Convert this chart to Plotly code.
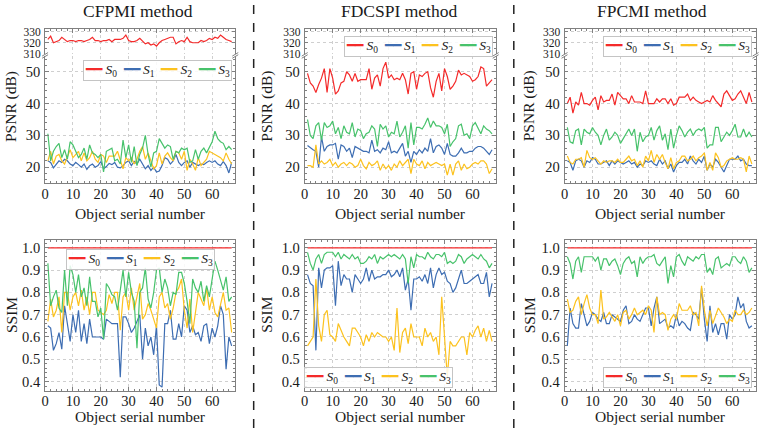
import plotly.graph_objects as go

W, H = 759, 433

# ---------------- data ----------------
x = list(range(1, 68))
methods = ["CFPMI method", "FDCSPI method", "FPCMI method"]
series_names = ["S0", "S1", "S2", "S3"]
psnr_ticks_top = [310, 320, 330]

ssim_s0 = [1.0, 1.0, 1.0, 1.0, 1.0, 1.0, 1.0, 1.0, 1.0, 1.0,
           1.0, 1.0, 1.0, 1.0, 1.0, 1.0, 1.0, 1.0, 1.0, 1.0,
           1.0, 1.0, 1.0, 1.0, 1.0, 1.0, 1.0, 1.0, 1.0, 1.0,
           1.0, 1.0, 1.0, 1.0, 1.0, 1.0, 1.0, 1.0, 1.0, 1.0,
           1.0, 1.0, 1.0, 1.0, 1.0, 1.0, 1.0, 1.0, 1.0, 1.0,
           1.0, 1.0, 1.0, 1.0, 1.0, 1.0, 1.0, 1.0, 1.0, 1.0,
           1.0, 1.0, 1.0, 1.0, 1.0, 1.0, 1.0]

# CFPMI
cf_psnr_s0 = [323, 326, 320, 321, 322, 325, 323, 321, 322, 322,
              321, 322, 322, 321, 322, 323, 325, 322, 322, 321,
              322, 322, 323, 321, 323, 323, 323, 324, 327, 322,
              321, 321, 322, 324, 321, 319, 320, 318, 319, 317,
              320, 322, 323, 324, 325, 325, 319, 321, 322, 321,
              325, 321, 320, 320, 320, 322, 321, 322, 324, 323,
              325, 324, 327, 325, 323, 322, 321]
cf_psnr_s1 = [22, 21.5, 19.8, 21, 22, 21.5, 22.5, 22, 21, 20.5,
              21.5, 20.8, 20, 21, 19.3, 20.5, 21, 20, 20.5, 21.8,
              19.5, 20.2, 21.2, 20.8, 21.5, 20, 19.8, 20.5, 21.5, 22,
              20.5, 21.8, 21, 22.5, 21, 19.5, 20.5, 19, 20, 18.5,
              18.8, 20.5, 23, 22.5, 21, 22, 24, 21.5, 20.5, 21.5,
              22, 20, 21.5, 21, 20.5, 21, 20.8, 21.5, 22, 21.5,
              22, 21, 20.5, 21.8, 20.5, 18.2, 21.5]
cf_psnr_s2 = [22, 25, 21, 23.5, 24, 22, 21, 23.5, 25.5, 23,
              24, 25, 22, 24.5, 22, 23, 25, 22.5, 21.5, 24,
              23.5, 21.5, 23.5, 23.5, 23.5, 25, 22.5, 19.5, 23, 22,
              23, 21, 22.5, 25, 26.5, 22.5, 24.5, 22, 19.5, 20.5,
              24.5, 21, 23.5, 24.5, 23, 22, 25, 24.5, 22.5, 25,
              19, 22.5, 21, 19, 23, 20.5, 21.5, 22.5, 25, 24.5,
              24, 23.5, 23, 22, 24.5, 22.5, 21]
cf_psnr_s3 = [30.5, 22, 25, 26.5, 27.5, 23, 25.5, 22.5, 28, 27,
              25, 23, 24, 26, 22.5, 27, 24.5, 24, 23, 24,
              18.5, 25, 25.5, 26, 22, 22.5, 21, 28.5, 23, 27,
              21.5, 26.5, 20.5, 24, 26, 30, 24, 20, 24.5, 25,
              29, 27.5, 26, 27, 26.5, 22.5, 25, 24.5, 26, 25.5,
              26, 21.5, 22, 25.5, 22.5, 25, 26, 24.5, 26.5, 28,
              31.3, 29, 28, 27.5, 25.5, 26.5, 25.5]
cf_ssim_s1 = [0.65, 0.64, 0.54, 0.57, 0.62, 0.545, 0.74, 0.65, 0.58, 0.70,
              0.62, 0.72, 0.58, 0.66, 0.57, 0.68, 0.60, 0.60, 0.60, 0.60,
              0.59, 0.68, 0.67, 0.66, 0.66, 0.66, 0.42, 0.69, 0.69, 0.66,
              0.62, 0.64, 0.67, 0.70, 0.50, 0.64, 0.56, 0.60, 0.52, 0.65,
              0.385, 0.375, 0.66, 0.66, 0.72, 0.59, 0.59, 0.66, 0.60, 0.74,
              0.72, 0.62, 0.65, 0.61, 0.62, 0.58, 0.65, 0.66, 0.57, 0.64,
              0.60, 0.65, 0.74, 0.70, 0.455, 0.60, 0.56]
cf_ssim_s2 = [0.67, 0.77, 0.69, 0.72, 0.78, 0.62, 0.80, 0.80, 0.72, 0.78,
              0.80, 0.74, 0.81, 0.72, 0.78, 0.70, 0.80, 0.80, 0.72, 0.71,
              0.70, 0.72, 0.79, 0.75, 0.80, 0.80, 0.63, 0.78, 0.80, 0.72,
              0.82, 0.72, 0.78, 0.84, 0.68, 0.70, 0.75, 0.72, 0.68, 0.64,
              0.78, 0.80, 0.73, 0.75, 0.68, 0.73, 0.80, 0.82, 0.86, 0.72,
              0.64, 0.77, 0.62, 0.70, 0.80, 0.77, 0.74, 0.82, 0.72, 0.78,
              0.71, 0.69, 0.75, 0.80, 0.72, 0.73, 0.62]
cf_ssim_s3 = [0.93, 0.74, 0.78, 0.81, 0.73, 0.71, 0.90, 0.74, 0.92, 0.88,
              0.80, 0.88, 0.78, 0.82, 0.74, 0.87, 0.76, 0.76, 0.69, 0.73,
              0.59, 0.84, 0.82, 0.79, 0.78, 0.72, 0.81, 0.90, 0.78, 0.89,
              0.80, 0.76, 0.55, 0.80, 0.82, 0.91, 0.77, 0.73, 0.80, 0.90,
              0.91, 0.80, 0.86, 0.82, 0.74, 0.80, 0.79, 0.89, 0.89, 0.84,
              0.76, 0.66, 0.86, 0.82, 0.80, 0.85, 0.76, 0.83, 0.78, 0.86,
              0.94, 0.90, 0.86, 0.81, 0.87, 0.76, 0.78]

# FDCSPI
fd_psnr_s0 = [49.5, 46.5, 45.5, 43.5, 46, 48, 51, 43.5, 51, 48,
              43, 44, 46.5, 47, 50, 49, 47, 49.5, 47, 47.5,
              47.5, 47.5, 51, 44.5, 48, 49, 45.5, 51, 53, 48,
              49, 47.5, 48, 47.5, 49.5, 47.5, 43, 49.5, 50, 44.5,
              49, 48.5, 49.5, 50, 45, 42, 47, 49.5, 44, 51,
              48.5, 44.5, 45.5, 47, 50.5, 49, 49.5, 49, 48.5, 47,
              47.5, 48.5, 51.5, 51, 45.5, 46.5, 47.5]
fd_psnr_s1 = [26.8, 26, 25.5, 25, 20, 29.5, 25, 26.5, 27, 27,
              27.5, 22.5, 27, 26.5, 25, 26, 23, 26.5, 26, 25.5,
              25, 25, 24.5, 28.5, 25, 25.5, 24.5, 26, 25.5, 28,
              24.5, 25, 24.5, 26, 27.5, 23.5, 25, 21.5, 25, 24,
              25.5, 24.5, 26, 25, 29, 24.5, 26.5, 27, 26, 24,
              27.5, 24, 23.5, 23.5, 24.5, 26, 24.5, 24.5, 25, 25,
              26, 26.5, 26.5, 26, 25, 24, 25.5]
fd_psnr_s2 = [20.5, 20.5, 20, 27, 21, 22, 21, 21.5, 22.5, 20.5,
              21.5, 20, 21, 21.5, 20.5, 21.5, 21, 20, 20.5, 22.5,
              20.5, 19.5, 21.5, 20.5, 21, 22, 19, 21, 19.5, 20.5,
              19, 21, 20, 22, 20.5, 21.5, 22.5, 18, 22.5, 21,
              20.5, 22, 19.5, 21.5, 20.5, 21, 21.5, 21, 20.5, 21,
              17.5, 21, 17.5, 21, 22, 19, 21, 19.5, 20, 21,
              21.5, 21, 22, 22, 21, 18, 19.5]
fd_psnr_s3 = [35, 30, 29, 33, 34, 28.5, 34, 32.5, 33, 34.5,
              30.5, 32.5, 29, 33, 31, 30.5, 34, 29.5, 32, 31.5,
              29, 30.5, 31, 33, 32, 26.5, 33.5, 32, 33, 29.5,
              31, 30.5, 34.5, 29.5, 31, 33, 26, 34, 27, 32.5,
              32.5, 32, 33.5, 35.5, 32.5, 34.5, 33, 33, 32.5, 30.5,
              33.5, 26.5, 28, 29, 33, 33.5, 30, 30.5, 29, 33,
              34, 32, 30.5, 33, 32, 31.5, 30.5]
fd_ssim_s1 = [0.88, 0.84, 0.83, 0.54, 0.91, 0.82, 0.90, 0.91, 0.91, 0.92,
              0.74, 0.94, 0.83, 0.88, 0.86, 0.86, 0.80, 0.88, 0.86, 0.84,
              0.86, 0.91, 0.85, 0.90, 0.86, 0.87, 0.87, 0.88, 0.88, 0.90,
              0.87, 0.88, 0.90, 0.87, 0.91, 0.81, 0.86, 0.72, 0.86, 0.86,
              0.87, 0.85, 0.88, 0.84, 0.91, 0.82, 0.88, 0.91, 0.88, 0.89,
              0.85, 0.84, 0.80, 0.82, 0.86, 0.90, 0.84, 0.84, 0.85, 0.86,
              0.87, 0.88, 0.84, 0.84, 0.89, 0.78, 0.84]
fd_ssim_s2 = [0.56, 0.58, 0.60, 0.86, 0.65, 0.58, 0.70, 0.72, 0.61, 0.60,
              0.58, 0.66, 0.63, 0.60, 0.58, 0.56, 0.64, 0.64, 0.62, 0.60,
              0.56, 0.61, 0.58, 0.62, 0.60, 0.62, 0.61, 0.60, 0.60, 0.58,
              0.60, 0.54, 0.73, 0.53, 0.62, 0.64, 0.57, 0.66, 0.60, 0.60,
              0.60, 0.56, 0.64, 0.60, 0.62, 0.58, 0.60, 0.52, 0.78, 0.60,
              0.42, 0.58, 0.56, 0.56, 0.58, 0.60, 0.60, 0.52, 0.62, 0.60,
              0.63, 0.65, 0.60, 0.64, 0.58, 0.63, 0.58]
fd_ssim_s3 = [0.98, 0.93, 0.90, 0.95, 0.97, 0.93, 0.97, 0.98, 0.98, 0.98,
              0.96, 0.98, 0.95, 0.97, 0.96, 0.95, 0.97, 0.95, 0.96, 0.93,
              0.93, 0.94, 0.96, 0.95, 0.97, 0.93, 0.96, 0.95, 0.96, 0.97,
              0.96, 0.97, 0.96, 0.95, 0.97, 0.95, 0.84, 0.96, 0.91, 0.97,
              0.96, 0.96, 0.95, 0.98, 0.96, 0.95, 0.97, 0.97, 0.96, 0.98,
              0.93, 0.94, 0.93, 0.94, 0.97, 0.96, 0.93, 0.95, 0.96, 0.97,
              0.96, 0.95, 0.97, 0.95, 0.94, 0.91, 0.93]

# FPCMI
fp_psnr_s0 = [40, 42, 37, 40.5, 39.5, 43.5, 40, 40, 39.5, 41,
              42, 38, 42.5, 40.5, 41, 41, 43, 39.5, 43.5, 42.5,
              41.5, 41.5, 40, 42.5, 40.5, 40.5, 40.5, 40, 44, 40,
              40, 40, 41.5, 40.5, 41.5, 41.5, 40, 41.5, 39.5, 40,
              42, 42, 42, 43, 41, 42, 41, 40.5, 40, 40.5,
              41, 40.5, 42.5, 41, 40, 39, 43, 44, 42.5, 41,
              41.5, 43, 44, 42, 40, 43.5, 40.5]
fp_psnr_s1 = [22, 21.5, 19, 22, 22.5, 22, 20, 22, 21.5, 23,
              22.5, 21, 21, 21.5, 22, 20.5, 22, 21, 22, 21.5,
              21, 21.5, 22, 21, 21.5, 20, 21, 20.5, 22, 21.5,
              22, 21, 20.5, 22.5, 21, 22, 19.5, 21, 18.5, 20.5,
              21.5, 21.5, 22.5, 21, 23.5, 22, 21, 22.5, 21.5, 23.5,
              19, 21, 20, 22.5, 21.5, 20, 18.5, 20.5, 22.5, 22.5,
              22.5, 23.5, 22, 22.5, 21, 20.5, 20.5]
fp_psnr_s2 = [23.5, 21.5, 21, 22.5, 22.5, 23, 20, 25.3, 23, 22.5,
              23, 22, 21, 22, 21.5, 22, 22, 21.5, 22.5, 21.5,
              21.5, 22.5, 23.5, 22, 22.5, 20.5, 22, 20, 23.5, 22,
              25.3, 21.5, 24, 22.5, 24, 21.5, 19.5, 23, 19.5, 21.5,
              22, 23.5, 23.5, 22, 22.5, 23.5, 22, 23, 23.5, 24.5,
              19, 21.5, 19, 24.5, 23, 20, 20.5, 22, 22.5, 23,
              22.5, 22.5, 23, 22.5, 18.5, 23.5, 21]
fp_psnr_s3 = [32.5, 28, 27.5, 31.5, 32, 27, 32, 31, 30.5, 32.5,
              31, 30, 27, 30, 32, 28.5, 29.5, 31, 30, 27.5,
              29, 30.5, 32, 30, 32, 25, 31, 28, 29.5, 30,
              32.5, 28.5, 31.5, 33, 28.5, 30.5, 25.5, 32, 26, 30,
              33, 31.5, 29.5, 31, 32, 30, 31.5, 32, 31.5, 32.5,
              26, 27, 27, 32.5, 32.5, 28, 29.5, 31, 30, 31.5,
              33.5, 29.5, 29.5, 32, 29.5, 31, 29.5]
fp_ssim_s1 = [0.56, 0.73, 0.66, 0.64, 0.64, 0.75, 0.70, 0.65, 0.67, 0.71,
              0.70, 0.68, 0.67, 0.71, 0.66, 0.66, 0.70, 0.69, 0.68, 0.67,
              0.72, 0.74, 0.66, 0.67, 0.70, 0.68, 0.67, 0.70, 0.73, 0.73,
              0.65, 0.73, 0.78, 0.66, 0.67, 0.68, 0.64, 0.65, 0.64, 0.70,
              0.65, 0.67, 0.66, 0.64, 0.63, 0.71, 0.70, 0.68, 0.82, 0.68,
              0.58, 0.74, 0.62, 0.66, 0.61, 0.66, 0.66, 0.59, 0.70, 0.68,
              0.70, 0.78, 0.73, 0.75, 0.67, 0.64, 0.65]
fp_ssim_s2 = [0.77, 0.71, 0.72, 0.76, 0.78, 0.70, 0.75, 0.79, 0.73, 0.70,
              0.70, 0.66, 0.81, 0.68, 0.69, 0.71, 0.69, 0.67, 0.70, 0.65,
              0.71, 0.72, 0.68, 0.70, 0.73, 0.70, 0.71, 0.72, 0.70, 0.74,
              0.72, 0.62, 0.78, 0.70, 0.71, 0.70, 0.63, 0.68, 0.70, 0.68,
              0.75, 0.72, 0.72, 0.72, 0.74, 0.70, 0.71, 0.65, 0.83, 0.72,
              0.65, 0.72, 0.66, 0.70, 0.73, 0.71, 0.69, 0.66, 0.68, 0.67,
              0.72, 0.70, 0.70, 0.72, 0.70, 0.71, 0.73]
fp_ssim_s3 = [0.96, 0.93, 0.86, 0.94, 0.96, 0.89, 0.96, 0.96, 0.96, 0.96,
              0.94, 0.96, 0.90, 0.95, 0.95, 0.92, 0.94, 0.95, 0.92, 0.88,
              0.93, 0.95, 0.96, 0.93, 0.94, 0.87, 0.96, 0.93, 0.95, 0.96,
              0.96, 0.97, 0.93, 0.92, 0.94, 0.96, 0.84, 0.92, 0.87, 0.96,
              0.97, 0.94, 0.92, 0.96, 0.95, 0.94, 0.96, 0.95, 0.97, 0.97,
              0.89, 0.91, 0.88, 0.95, 0.96, 0.91, 0.92, 0.93, 0.92, 0.96,
              0.96, 0.94, 0.93, 0.96, 0.94, 0.89, 0.91]

psnr_data = [[cf_psnr_s0, cf_psnr_s1, cf_psnr_s2, cf_psnr_s3],
             [fd_psnr_s0, fd_psnr_s1, fd_psnr_s2, fd_psnr_s3],
             [fp_psnr_s0, fp_psnr_s1, fp_psnr_s2, fp_psnr_s3]]
ssim_data = [[ssim_s0, cf_ssim_s1, cf_ssim_s2, cf_ssim_s3],
             [ssim_s0, fd_ssim_s1, fd_ssim_s2, fd_ssim_s3],
             [ssim_s0, fp_ssim_s1, fp_ssim_s2, fp_ssim_s3]]

# ---------------- styling ----------------
COLORS = ["#f42a2a", "#3d6db2", "#fcc21e", "#47c26b"]
FONT = "Liberation Serif"
SPINE = "#808080"
GRID = "#cfcfcf"
TXT = "#1a1a1a"
TICK_SIZE = 14.5

def fx(p):
    return p / W

def fy(p):
    return 1 - p / H

col_px = [(41.3, 232.5), (302.3, 494.3), (563.5, 755.5)]
row_px = [(26.7, 52.3), (54.5, 183.5), (241.7, 395.0)]
title_x = [135, 397, 651]
ylab_x = [7, 264, 528]
leg_psnr = [(154.5, 69), (416.5, 44), (677.5, 44)]
leg_ssim = [(137.5, 261), (376, 381.5), (677.5, 381.5)]

fig = go.Figure()
layout = dict(width=W, height=H, autosize=False,
              margin=dict(l=0, r=0, t=0, b=0),
              paper_bgcolor="white", plot_bgcolor="white",
              showlegend=False, font=dict(family=FONT, color=TXT, size=13))

for c in range(3):
    for r in range(3):
        idx = 3 * c + r + 1
        xn = "x" if idx == 1 else f"x{idx}"
        yn = "y" if idx == 1 else f"y{idx}"
        xk = "xaxis" if idx == 1 else f"xaxis{idx}"
        yk = "yaxis" if idx == 1 else f"yaxis{idx}"
        xa = dict(domain=[fx(col_px[c][0]), fx(col_px[c][1])], anchor=yn,
                  range=[0, 68.3], tick0=0, dtick=10, showgrid=True,
                  gridcolor=GRID, griddash="dot", gridwidth=0.8,
                  ticks="inside", ticklen=3.5, tickcolor=SPINE, tickwidth=0.8,
                  minor=dict(ticks="inside", ticklen=2, dtick=2, tickcolor=SPINE,
                             tickwidth=0.6, showgrid=False),
                  showline=True, linecolor=SPINE, linewidth=1, zeroline=False,
                  tickfont=dict(size=TICK_SIZE, family=FONT, color=TXT),
                  ticklabelstandoff=-3)
        ya = dict(domain=[fy(row_px[r][1]), fy(row_px[r][0])], anchor=xn,
                  showgrid=True, gridcolor=GRID, griddash="dot", gridwidth=0.8,
                  ticks="inside", ticklen=3.5, tickcolor=SPINE, tickwidth=0.8,
                  showline=True, linecolor=SPINE, linewidth=1, mirror="ticks",
                  zeroline=False, tickfont=dict(size=TICK_SIZE, family=FONT, color=TXT),
                  ticklabelstandoff=1)
        if r == 0:
            xa.update(side="top", showticklabels=False, mirror=False)
            ya.update(range=[309.5, 332.3], tickvals=psnr_ticks_top,
                      tickfont=dict(size=11.5, family=FONT, color=TXT),
                      minor=dict(ticks="inside", ticklen=2, dtick=5, tickcolor=SPINE,
                                 tickwidth=0.6, showgrid=False))
        elif r == 1:
            xa.update(mirror=False)
            ya.update(range=[15, 54.8], tick0=0, dtick=10,
                      minor=dict(ticks="inside", ticklen=2, dtick=2, tickcolor=SPINE,
                                 tickwidth=0.6, showgrid=False))
        else:
            xa.update(mirror="ticks")
            ya.update(range=[0.359, 1.034], tick0=0, dtick=0.1, tickformat=".1f",
                      minor=dict(ticks="inside", ticklen=2, dtick=0.02, tickcolor=SPINE,
                                 tickwidth=0.6, showgrid=False))
        layout[xk] = xa
        layout[yk] = ya

        data = psnr_data[c] if r < 2 else ssim_data[c]
        for s in range(4):
            fig.add_trace(go.Scatter(x=x, y=data[s], mode="lines",
                                     line=dict(color=COLORS[s], width=1.2),
                                     name=series_names[s], xaxis=xn, yaxis=yn,
                                     showlegend=False, hoverinfo="skip"))

annotations = []
shapes = []

def legend_text():
    parts = []
    for i, col in enumerate(COLORS):
        lead = "" if i == 0 else "\u00a0\u00a0"
        parts.append(f"<span style='color:{col}'>{lead}━━\u00a0</span>"
                     f"<i>S</i><sub>{i}</sub>")
    return "".join(parts)

for c in range(3):
    xc = (col_px[c][0] + col_px[c][1]) / 2
    annotations.append(dict(text=methods[c], x=fx(title_x[c]), y=fy(8), xref="paper", yref="paper",
                            xanchor="center", yanchor="middle", showarrow=False,
                            font=dict(size=17.5, family=FONT, color=TXT)))
    annotations.append(dict(text="PSNR (dB)", x=fx(ylab_x[c]), y=fy(105), xref="paper", yref="paper",
                            xanchor="center", yanchor="middle", showarrow=False, textangle=-90,
                            font=dict(size=15.5, family=FONT, color=TXT)))
    annotations.append(dict(text="SSIM", x=fx(ylab_x[c]), y=fy(318), xref="paper", yref="paper",
                            xanchor="center", yanchor="middle", showarrow=False, textangle=-90,
                            font=dict(size=15.5, family=FONT, color=TXT)))
    for ylab in (214, 421):
        annotations.append(dict(text="Object serial number", x=fx(xc), y=fy(ylab), xref="paper",
                                yref="paper", xanchor="center", yanchor="middle", showarrow=False,
                                font=dict(size=15.5, family=FONT, color=TXT)))
    for (lx, ly) in (leg_psnr[c], leg_ssim[c]):
        annotations.append(dict(text=legend_text(), x=fx(lx), y=fy(ly), xref="paper", yref="paper",
                                xanchor="center", yanchor="middle", showarrow=False,
                                bgcolor="rgba(255,255,255,0.85)", bordercolor="#c4c4c4",
                                borderwidth=1, borderpad=1,
                                font=dict(size=13.5, family=FONT, color=TXT)))
    # broken-axis marks
    for xs in col_px[c]:
        for ys in (row_px[0][1], row_px[1][0]):
            shapes.append(dict(type="line", xref="paper", yref="paper",
                               x0=fx(xs - 3), y0=fy(ys + 1.8), x1=fx(xs + 3), y1=fy(ys - 1.8),
                               line=dict(color=SPINE, width=1)))

for xs in (251, 512.5):
    shapes.append(dict(type="line", xref="paper", yref="paper", x0=fx(xs), x1=fx(xs),
                       y0=0, y1=1, line=dict(color="#222", width=1.5, dash="dash")))

layout["annotations"] = annotations
layout["shapes"] = shapes
fig.update_layout(**layout)

reset_css = ("document.body.style.margin='0px';"
             "document.body.style.padding='0px';"
             "document.body.style.overflow='hidden';")
fig.write_html("out.html", post_script=reset_css, config={"displayModeBar": False})
